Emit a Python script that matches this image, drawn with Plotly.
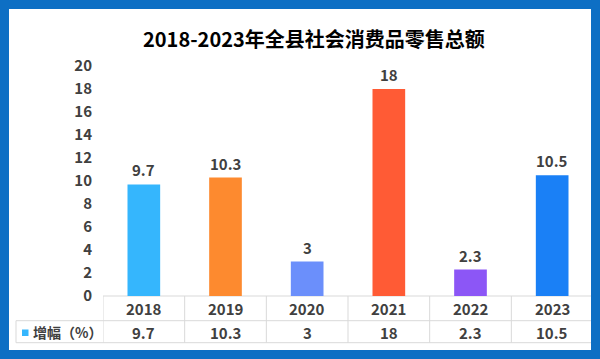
import plotly.graph_objects as go

years = ["2018", "2019", "2020", "2021", "2022", "2023"]
growth = [9.7, 10.3, 3, 18, 2.3, 10.5]
bar_colors = ["#35b6fd", "#fd8a2f", "#6b8ffb", "#ff5b35", "#8c56f6", "#1a80f6"]
y_ticks = list(range(0, 21, 2))
title_text = "2018-2023年全县社会消费品零售总额"
series_name = "增幅（%）"

FONT = "Noto Sans CJK SC, Microsoft YaHei, sans-serif"
TXT = "#404040"
GRID = "#d9d9d9"
BORDER = "#0d6fc4"

W, H = 600, 359
L, R, T, B = 103, 7, 66, 63
PW, PH = W - L - R, H - T - B


def px(x):
    return (x - L) / PW


def py(y):
    return (H - B - y) / PH


fig = go.Figure()
fig.add_trace(go.Bar(
    x=years, y=growth, marker=dict(color=bar_colors, line=dict(width=0)),
    width=0.4, showlegend=False, hoverinfo="skip",
))

shapes = []
# outer blue frame
shapes.append(dict(type="rect", xref="paper", yref="paper",
                   x0=px(4.5), x1=px(595.5), y0=py(354.5), y1=py(4.5),
                   line=dict(color=BORDER, width=9), fillcolor="rgba(0,0,0,0)", layer="above"))
# table horizontal lines
for yy, x0 in [(296, L), (320.7, 16), (342.7, 16)]:
    shapes.append(dict(type="line", xref="paper", yref="paper",
                       x0=px(x0), x1=1, y0=py(yy), y1=py(yy),
                       line=dict(color=GRID, width=1), layer="below"))
# table vertical lines at category boundaries
for k in range(len(years) + 1):
    shapes.append(dict(type="line", xref="x", yref="paper",
                       x0=k - 0.5, x1=k - 0.5, y0=py(296), y1=py(342.7),
                       line=dict(color=GRID, width=1), layer="below"))
shapes.append(dict(type="line", xref="paper", yref="paper",
                   x0=px(16), x1=px(16), y0=py(320.7), y1=py(342.7),
                   line=dict(color=GRID, width=1), layer="below"))
# legend key
shapes.append(dict(type="rect", xref="paper", yref="paper",
                   x0=px(22), x1=px(28.5), y0=py(336), y1=py(329.5),
                   line=dict(width=0), fillcolor=bar_colors[0]))

annotations = [dict(text=title_text, xref="paper", yref="paper", x=px(314), y=py(38),
                    xanchor="center", yanchor="middle", showarrow=False,
                    font=dict(family=FONT, size=20, color="#000000", weight="bold"))]
for i, (yr, v) in enumerate(zip(years, growth)):
    # data label above bar
    annotations.append(dict(text=f"{v:g}", xref="x", yref="y", x=i, y=v, yshift=14.5,
                            xanchor="center", yanchor="middle", showarrow=False,
                            font=dict(family=FONT, size=15, color=TXT, weight="bold")))
    # table cells
    annotations.append(dict(text=yr, xref="x", yref="paper", x=i, y=py(308.5),
                            xanchor="center", yanchor="middle", showarrow=False,
                            font=dict(family=FONT, size=15, color=TXT, weight="bold")))
    annotations.append(dict(text=f"{v:g}", xref="x", yref="paper", x=i, y=py(332),
                            xanchor="center", yanchor="middle", showarrow=False,
                            font=dict(family=FONT, size=15, color=TXT, weight="bold")))
annotations.append(dict(text=series_name, xref="paper", yref="paper", x=px(30.5), y=py(332),
                        xanchor="left", yanchor="middle", showarrow=False,
                        font=dict(family=FONT, size=14, color=TXT, weight="bold")))

fig.update_layout(
    width=W, height=H, margin=dict(l=L, r=R, t=T, b=B, pad=0),
    paper_bgcolor="white", plot_bgcolor="white",
    font=dict(family=FONT),
    xaxis=dict(type="category", range=[-0.5, 5.5], showticklabels=False, showgrid=False,
               zeroline=False, showline=False, ticks="", fixedrange=True),
    yaxis=dict(range=[0, 20], tickvals=y_ticks, showgrid=False, zeroline=False, showline=False,
               ticks="", ticklabelstandoff=10, fixedrange=True,
               tickfont=dict(family=FONT, size=15, color=TXT, weight="bold")),
    shapes=shapes, annotations=annotations,
)

fig.write_html("out.html", config={"displayModeBar": False, "staticPlot": True},
               post_script="document.body.style.margin='0';document.body.style.overflow='hidden';")
